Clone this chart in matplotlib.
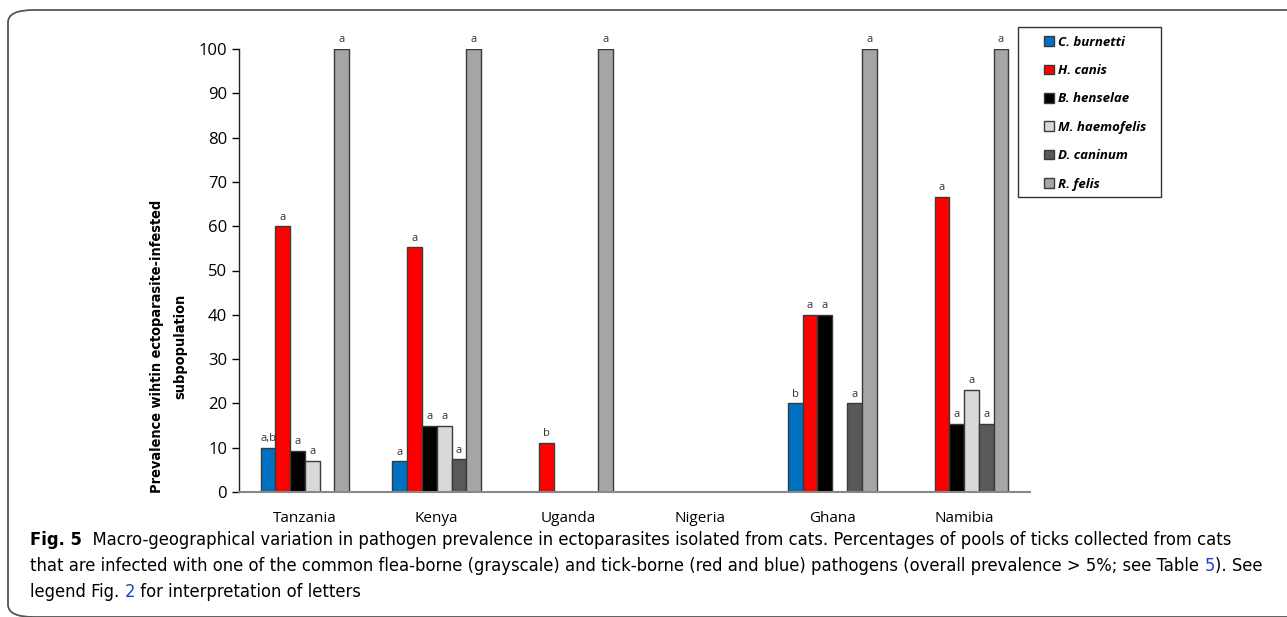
import matplotlib
matplotlib.use("Agg")
import matplotlib.pyplot as plt
import numpy as np
from matplotlib.patches import FancyBboxPatch, Rectangle

countries = ["Tanzania", "Kenya", "Uganda", "Nigeria", "Ghana", "Namibia"]
pathogens = ["C. burnetti", "H. canis", "B. henselae", "M. haemofelis", "D. caninum", "R. felis"]
colors = ["#0070C0", "#FF0000", "#000000", "#D9D9D9", "#595959", "#A6A6A6"]

# prevalence per pathogen, one value per country (0 = no bar)
c_burnetti = [10.0, 6.9, 0, 0, 20.0, 0]
h_canis = [60.0, 55.2, 11.1, 0, 40.0, 66.7]
b_henselae = [9.3, 15.0, 0, 0, 40.0, 15.4]
m_haemofelis = [7.0, 15.0, 0, 0, 0, 23.1]
d_caninum = [0, 7.4, 0, 0, 20.0, 15.4]
r_felis = [100.0, 100.0, 100.0, 0, 100.0, 100.0]

lt_c_burnetti = ["a,b", "a", "", "", "b", ""]
lt_h_canis = ["a", "a", "b", "", "a", "a"]
lt_b_henselae = ["a", "a", "", "", "a", "a"]
lt_m_haemofelis = ["a", "a", "", "", "", "a"]
lt_d_caninum = ["", "a", "", "", "a", "a"]
lt_r_felis = ["a", "a", "a", "", "a", "a"]

series = [c_burnetti, h_canis, b_henselae, m_haemofelis, d_caninum, r_felis]
letters = [lt_c_burnetti, lt_h_canis, lt_b_henselae, lt_m_haemofelis, lt_d_caninum, lt_r_felis]

plt.rcParams["font.family"] = ["Open Sans", "DejaVu Sans"]
narrow = ["DejaVu Sans"]

W, H = 1287, 617
fig = plt.figure(figsize=(W / 100, H / 100), dpi=100)

# rounded frame around figure + caption
frame = FancyBboxPatch((8 / W, 1 - 617 / H), 1.2, (617 - 10) / H,
                       boxstyle="round,pad=0,rounding_size=0.02",
                       transform=fig.transFigure, fill=False,
                       edgecolor="#555555", linewidth=1.3)
fig.patches.append(frame)

ax = fig.add_axes([239 / W, 1 - 492 / H, (1030 - 239) / W, (492 - 49) / H])

x = np.arange(len(countries))
bw = 0.112
for i, (vals, col, lts) in enumerate(zip(series, colors, letters)):
    pos = x + (i - 2.5) * bw
    v = np.array(vals)
    mask = v > 0
    ax.bar(pos[mask], v[mask], width=bw, color=col, edgecolor="#3a3a3a",
           linewidth=1.0, label=pathogens[i])
    for p, val, lt in zip(pos, vals, lts):
        if val > 0 and lt:
            ax.text(p, val + 0.8, lt, ha="center", va="bottom",
                    fontsize=8, color="#333333")

ax.set_xlim(-0.5, len(countries) - 0.5)
ax.set_ylim(0, 100)
ax.set_yticks(np.arange(0, 101, 10))
ax.set_xticks(x)
ax.set_xticklabels(countries, fontsize=11)
ax.tick_params(axis="x", length=0, pad=14)
ax.tick_params(axis="y", labelsize=12, length=5, direction="out", width=1)
for s in ["top", "right"]:
    ax.spines[s].set_visible(False)
ax.spines["bottom"].set_color("#888888")
ax.spines["bottom"].set_linewidth(1.5)
ax.spines["left"].set_color("#222222")
ax.spines["left"].set_linewidth(1.0)

# legend box drawn separately so its padding can match the reference
fig.patches.append(Rectangle((1018 / W, 1 - 197 / H), (1161 - 1018) / W, (197 - 27) / H,
                             transform=fig.transFigure, fill=False,
                             edgecolor="#333333", linewidth=1.0))
leg = fig.legend(loc="upper left", bbox_to_anchor=(1044 / W, 1 - 35.5 / H),
                 borderaxespad=0, borderpad=0, frameon=False, handlelength=0.75,
                 handleheight=0.75, handletextpad=0.3, labelspacing=1.17,
                 prop={"size": 9.5, "style": "italic", "weight": "bold"})

fig.canvas.draw()
r = fig.canvas.get_renderer()

# y label: two centered lines, sized to the reference length
ylab = "Prevalence wihtin ectoparasite-infested\nsubpopulation"
yl = fig.text(169 / W, 1 - 346 / H, ylab, rotation=90, ha="center", va="center",
              fontsize=14, fontweight="bold", family=narrow, fontstretch="condensed",
              linespacing=1.85)
hgt = yl.get_window_extent(renderer=r).height
yl.set_fontsize(14 * 296 / hgt)

# caption, drawn segment by segment so link numbers can be blue
cap_lines = [
    [("Fig. 5", "black", "bold"),
     ("  Macro-geographical variation in pathogen prevalence in ectoparasites isolated from cats. "
      "Percentages of pools of ticks collected from cats", "black", "normal")],
    [("that are infected with one of the common flea-borne (grayscale) and tick-borne (red and blue) "
      "pathogens (overall prevalence > 5%; see Table ", "black", "normal"),
     ("5", "#1f3fd0", "normal"), ("). See", "black", "normal")],
    [("legend Fig. ", "black", "normal"), ("2", "#1f3fd0", "normal"),
     (" for interpretation of letters", "black", "normal")],
]
cap_y = [540, 566, 592]


def draw_caption(size, keep):
    made = []
    widths = []
    for segs, yy in zip(cap_lines, cap_y):
        xpos = 30
        for txt, col, wt in segs:
            t = fig.text(xpos / W, 1 - yy / H, txt, fontsize=size, color=col,
                         fontweight=wt, va="center", ha="left",
                         family=narrow, fontstretch="condensed")
            made.append(t)
            xpos += t.get_window_extent(renderer=r).width
        widths.append(xpos - 30)
    if not keep:
        for t in made:
            t.remove()
    return max(widths)


w0 = draw_caption(12, keep=False)
draw_caption(12 * 1232 / w0, keep=True)

fig.savefig("out.png", dpi=100)
